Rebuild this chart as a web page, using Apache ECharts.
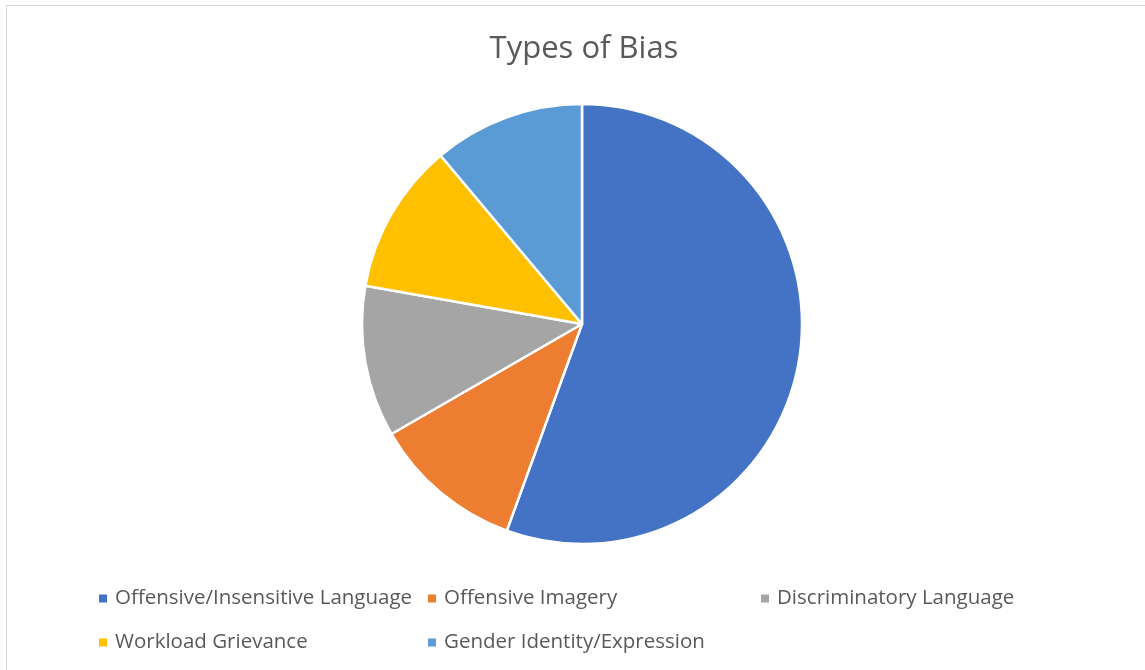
<!DOCTYPE html>
<html><head><meta charset="utf-8">
<script src="https://cdn.jsdelivr.net/npm/echarts@6/dist/echarts.min.js"></script>
<style>
html,body{margin:0;padding:0;background:#fff;}
#frame{position:absolute;left:6px;top:5px;width:1145px;height:670px;border-left:1px solid #d9d9d9;border-top:1px solid #d9d9d9;box-sizing:border-box;}
#chart{position:absolute;left:0;top:0;width:1145px;height:670px;}
</style></head>
<body>
<div id="frame"></div>
<div id="chart"></div>
<script>
const title = "Types of Bias";
const categories = ["Offensive/Insensitive Language","Offensive Imagery","Discriminatory Language","Workload Grievance","Gender Identity/Expression"];
const values = [5,1,1,1,1];
const colors = ["#4472C4","#ED7D31","#A5A5A5","#FFC000","#5B9BD5"];

const legendPos = [[92,583],[421,583],[754,583],[92,627],[421,627]];
const font = "'Open Sans', sans-serif";
const chart = echarts.init(document.getElementById('chart'));
chart.setOption({
  animation:false,
  color: colors,
  title:{text:title,left:579,textAlign:'center',top:29,textStyle:{fontFamily:font,fontSize:31,fontWeight:'normal',color:'#595959'}},
  legend: categories.map((c,i)=>({
    data:[c], left:legendPos[i][0], top:legendPos[i][1], icon:'rect', itemWidth:10, itemHeight:10, itemGap:0,
    textStyle:{fontFamily:font,fontSize:20.5,color:'#595959',padding:[0,0,0,2]}, selectedMode:false
  })),
  series:[{
    type:'pie', center:[582,324], radius:[0,220], startAngle:90, clockwise:true,
    label:{show:false}, labelLine:{show:false}, silent:true,
    itemStyle:{borderColor:'#fff',borderWidth:2.5},
    data: categories.map((c,i)=>({name:c,value:values[i]}))
  }]
});
</script>
</body></html>
